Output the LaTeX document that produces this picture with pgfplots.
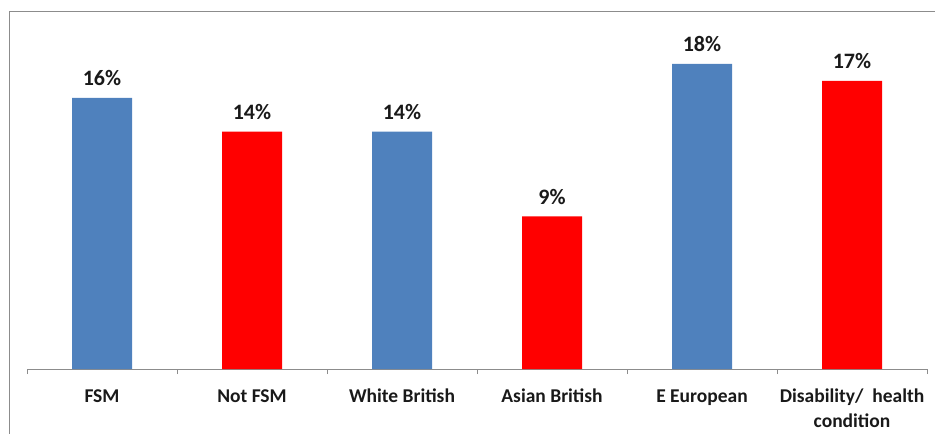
\documentclass[border=0pt]{standalone}
\usepackage{pgfplots}
\pgfplotsset{compat=1.18}
\usepackage{fontspec}
\setmainfont{Carlito}
\definecolor{barblue}{HTML}{4F81BD}
\definecolor{barred}{HTML}{FF0000}
\definecolor{framegray}{HTML}{8C8C8C}
\begin{document}
\begin{tikzpicture}[x=1pt,y=1pt]
\useasboundingbox (0,0) rectangle (935,434);
\draw[framegray, line width=1pt] (9.5,0) -- (9.5,422) -- (935,422);
\begin{axis}[
  at={(27pt,65pt)}, anchor=south west,
  scale only axis, width=900pt, height=339pt,
  xmin=-0.5, xmax=5.5, ymin=0, ymax=20,
  axis y line=none, axis x line*=bottom,
  x axis line style={framegray, line width=0.8pt},
  xtick={0,1,2,3,4,5},
  xticklabels={FSM, Not FSM, White British, Asian British, E European, {\begin{tabular}[t]{@{}c@{}}Disability/\ \ health\\condition\end{tabular}}},
  major x tick style={draw=none},
  extra x ticks={-0.5,0.5,1.5,2.5,3.5,4.5,5.5},
  extra x tick labels={},
  extra x tick style={tick align=outside, major tick length=5pt, major x tick style={draw=framegray, line width=0.8pt}},
  xticklabel style={font=\fontsize{19.5}{24.5}\selectfont\bfseries, anchor=base, yshift=-29.5pt, text=black!90},
  /pgf/number format/assume math mode=true,
  ybar, bar width=60pt, bar shift=0pt,
  nodes near coords={\pgfmathprintnumber{\pgfplotspointmeta}\%},
  nodes near coords style={font=\fontsize{22}{25}\selectfont\bfseries, anchor=south, inner sep=0pt, yshift=12pt, text=black!90},
  clip=false,
]
\addplot[fill=barblue, draw=none] coordinates {(0,16) (2,14) (4,18)};
\addplot[fill=barred, draw=none] coordinates {(1,14) (3,9) (5,17)};
\end{axis}
\end{tikzpicture}
\end{document}
